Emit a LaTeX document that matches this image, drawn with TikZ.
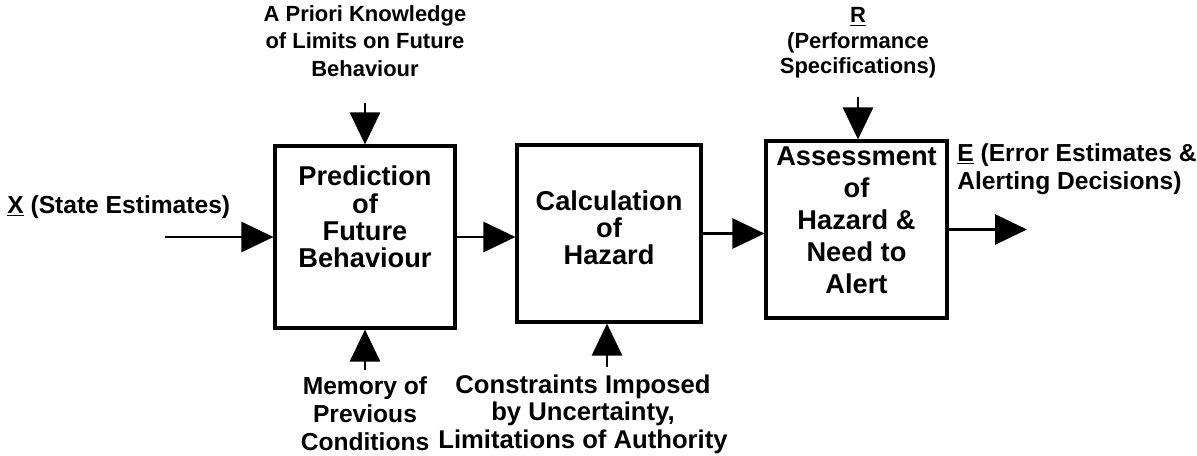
\documentclass[tikz,border=0pt]{standalone}
\usepackage{fontspec}
\setmainfont{Liberation Sans}
\usetikzlibrary{positioning, arrows.meta}

\begin{document}
\begin{tikzpicture}[
  x=0.02cm, y=-0.02cm,
  block/.style={draw, line width=1.8pt, inner sep=0pt},
  blocktext/.style={align=center, inner sep=0pt, font=\fontsize{15.5}{15.5}\selectfont\bfseries},
  lbl/.style={align=center, inner sep=0pt, font=\fontsize{14}{16}\selectfont\bfseries},
  toplbl/.style={lbl, font=\fontsize{12.5}{15.5}\selectfont\bfseries},
  arr/.style={-{Triangle[length=0.64cm, width=0.6cm]}, line width=1.6pt}
]
\useasboundingbox (0,0) rectangle (1197,456);

% ---------- blocks ----------
\node[block, minimum width=3.6cm, minimum height=3.64cm] (pred) at (365,237) {};
\node[blocktext] at (365,217) {Prediction\\of\\Future\\Behaviour};
\node[block, minimum width=3.68cm, minimum height=3.54cm] (calc) at (609,233.5) {};
\node[blocktext] at (609,228) {Calculation\\of\\Hazard};
\node[block, minimum width=3.62cm, minimum height=3.54cm] (assess) at (856.5,229.5) {};
\node[blocktext, font=\fontsize{15.5}{18.2}\selectfont\bfseries] at (856.5,220) {Assessment\\of\\Hazard \&\\Need to\\Alert};

% ---------- labels ----------
\node[lbl, anchor=west] (state) at (7,207) {\underline{X} (State Estimates)};
\node[toplbl] (prior) at (365,41) {A Priori Knowledge\\of Limits on Future\\Behaviour};
\node[lbl] (memory) at (365,414) {Memory of\\Previous\\Conditions};
\node[lbl, font=\fontsize{14.6}{15.6}\selectfont\bfseries] (constr) at (583,414) {Constraints Imposed\\by Uncertainty,\\Limitations of Authority};
\node[toplbl, font=\fontsize{12.5}{14.5}\selectfont\bfseries] (perf) at (858,43) {\underline{R}\\(Performance\\Specifications)};
\node[lbl, anchor=west, align=left] (error) at (957,169) {\underline{E} (Error Estimates \&\\Alerting Decisions)};

% free ends of the inputs and the output
\coordinate (xin) at (165,237);
\coordinate (priorin) at (365,103);
\coordinate (memin) at (365,370);
\coordinate (conin) at (607,367);
\coordinate (perfin) at (858,97);
\coordinate (eout) at (1027,230);

% ---------- connectors ----------
\draw[arr] (xin) -- (pred.west);
\draw[arr] (priorin) -- (pred.north);
\draw[arr] (memin) -- (pred.south);
\draw[arr] (pred.east) -- (pred.east -| calc.west);
\draw[arr] (conin) -- (calc.south -| conin);
\draw[arr] (calc.east) -- (calc.east -| assess.west);
\draw[arr] (perfin) -- (assess.north -| perfin);
\draw[arr] (assess.east) -- (assess.east -| eout);

\end{tikzpicture}
\end{document}
